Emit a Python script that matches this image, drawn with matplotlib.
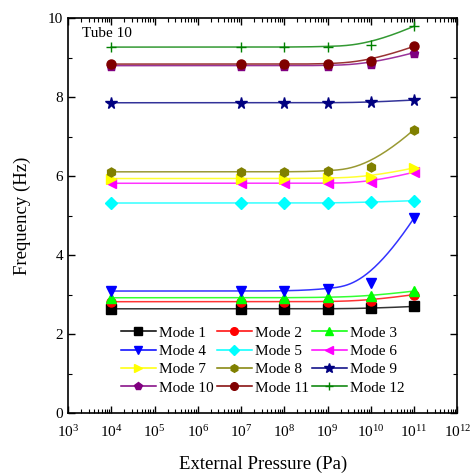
import numpy as np
import matplotlib
matplotlib.use('Agg')
import matplotlib.pyplot as plt
from matplotlib.ticker import (LogLocator, MultipleLocator, NullFormatter,
                               FixedLocator, LogFormatterSciNotation)

plt.rcParams['font.family'] = ['Liberation Serif', 'DejaVu Serif']
plt.rcParams['mathtext.fontset'] = 'custom'
plt.rcParams['mathtext.rm'] = 'Liberation Serif'
plt.rcParams['mathtext.it'] = 'Liberation Serif:italic'

# data
pressure = [1e4, 1e7, 1e8, 1e9, 1e10, 1e11]
mode_names = ['Mode %d' % i for i in range(1, 13)]
mode1 = [2.64, 2.64, 2.64, 2.64, 2.65, 2.70]
mode2 = [2.82, 2.82, 2.82, 2.82, 2.85, 3.00]
mode3 = [2.92, 2.92, 2.92, 2.93, 2.96, 3.09]
mode4 = [3.09, 3.09, 3.09, 3.13, 3.30, 4.94]
mode5 = [5.32, 5.32, 5.32, 5.32, 5.34, 5.38]
mode6 = [5.82, 5.82, 5.82, 5.82, 5.84, 6.10]
mode7 = [5.94, 5.94, 5.94, 5.95, 5.98, 6.21]
mode8 = [6.11, 6.11, 6.11, 6.12, 6.23, 7.18]
mode9 = [7.86, 7.86, 7.86, 7.86, 7.87, 7.93]
mode10 = [8.80, 8.80, 8.80, 8.80, 8.84, 9.13]
mode11 = [8.84, 8.84, 8.84, 8.84, 8.91, 9.29]
mode12 = [9.27, 9.27, 9.27, 9.28, 9.33, 9.80]
modes = [mode1, mode2, mode3, mode4, mode5, mode6,
         mode7, mode8, mode9, mode10, mode11, mode12]
xticks = [1e3, 1e4, 1e5, 1e6, 1e7, 1e8, 1e9, 1e10, 1e11, 1e12]

colors = ['#000000', '#ff0000', '#00ff00', '#0000ff', '#00ffff', '#ff00ff',
          '#ffff00', '#808000', '#000080', '#800080', '#800000', '#008000']
markers = ['s', 'o', '^', 'v', 'D', '<', '>', 'h', '*', 'p', 'o', '+']


def bspline(px, py, deg=3, num=200):
    # clamped B-spline with the data points as control points (Origin style)
    px = np.asarray(px, float)
    py = np.asarray(py, float)
    n = len(px)
    k = deg
    knots = np.concatenate([np.zeros(k), np.arange(n - k + 1), np.full(k, n - k)]).astype(float)
    t = np.linspace(0, n - k, num)
    t[-1] -= 1e-9
    B = np.zeros((num, len(knots) - 1))
    for i in range(len(knots) - 1):
        B[:, i] = (t >= knots[i]) & (t < knots[i + 1])
    for d in range(1, k + 1):
        Bn = np.zeros((num, len(knots) - 1 - d))
        for i in range(len(knots) - 1 - d):
            a = knots[i + d] - knots[i]
            b = knots[i + d + 1] - knots[i + 1]
            term = 0
            if a > 0:
                term = term + (t - knots[i]) / a * B[:, i]
            if b > 0:
                term = term + (knots[i + d + 1] - t) / b * B[:, i + 1]
            Bn[:, i] = term
        B = Bn
    return B @ px, B @ py


fig = plt.figure(figsize=(4.77, 4.75), dpi=100)
ax = fig.add_axes([0.1426, 0.1305, 0.8161, 0.831])

lx = np.log10(pressure)
handles = []
for name, vals, c, m in zip(mode_names, modes, colors, markers):
    sx, sy = bspline(lx, vals)
    ax.plot(10 ** sx, sy, color=c, lw=1.1, alpha=0.8)
    ms = 6.5
    if m == '*':
        ms = 8.5
    if m == '+':
        ax.plot(pressure, vals, ls='none', marker=m, color=c, ms=7, mew=1.0)
    else:
        ax.plot(pressure, vals, ls='none', marker=m, color=c, ms=ms, mec=c)
    h, = ax.plot([], [], color=c, lw=1.1, marker=m, ms=5.5 if m != '*' else 7,
                 label=name)
    handles.append(h)

ax.set_xscale('log')
ax.set_xlim(1e3, 1e12)
ax.set_ylim(0, 10)
ax.xaxis.set_major_locator(FixedLocator(xticks))
ax.xaxis.set_major_formatter(LogFormatterSciNotation())
ax.xaxis.set_minor_locator(LogLocator(base=10, subs=np.arange(2, 10), numticks=20))
ax.xaxis.set_minor_formatter(NullFormatter())
ax.yaxis.set_major_locator(MultipleLocator(2))
ax.yaxis.set_minor_locator(MultipleLocator(1))
ax.tick_params(which='both', direction='in', top=True, right=True, labelsize=11)
ax.tick_params(which='major', length=5, width=1)
ax.tick_params(which='minor', length=3, width=0.8)
ax.tick_params(axis='x', which='major', pad=8)
for s in ax.spines.values():
    s.set_linewidth(1.2)

ax.set_xlabel('External Pressure (Pa)', fontsize=13.5, labelpad=11)
ax.set_ylabel('Frequency (Hz)', fontsize=13.5, labelpad=12)
ax.text(0.035, 0.978, 'Tube 10', transform=ax.transAxes, fontsize=11, va='top')

# legend filled row by row, three columns
order = [0, 3, 6, 9, 1, 4, 7, 10, 2, 5, 8, 11]
ax.legend([handles[i] for i in order], [mode_names[i] for i in order],
          ncol=3, loc='lower center', bbox_to_anchor=(0.5, 0.0),
          frameon=False, fontsize=11, handlelength=2.3, labelspacing=0.3,
          columnspacing=0.2, handletextpad=0.2, borderaxespad=0.8)

fig.savefig('out.png', dpi=100)
